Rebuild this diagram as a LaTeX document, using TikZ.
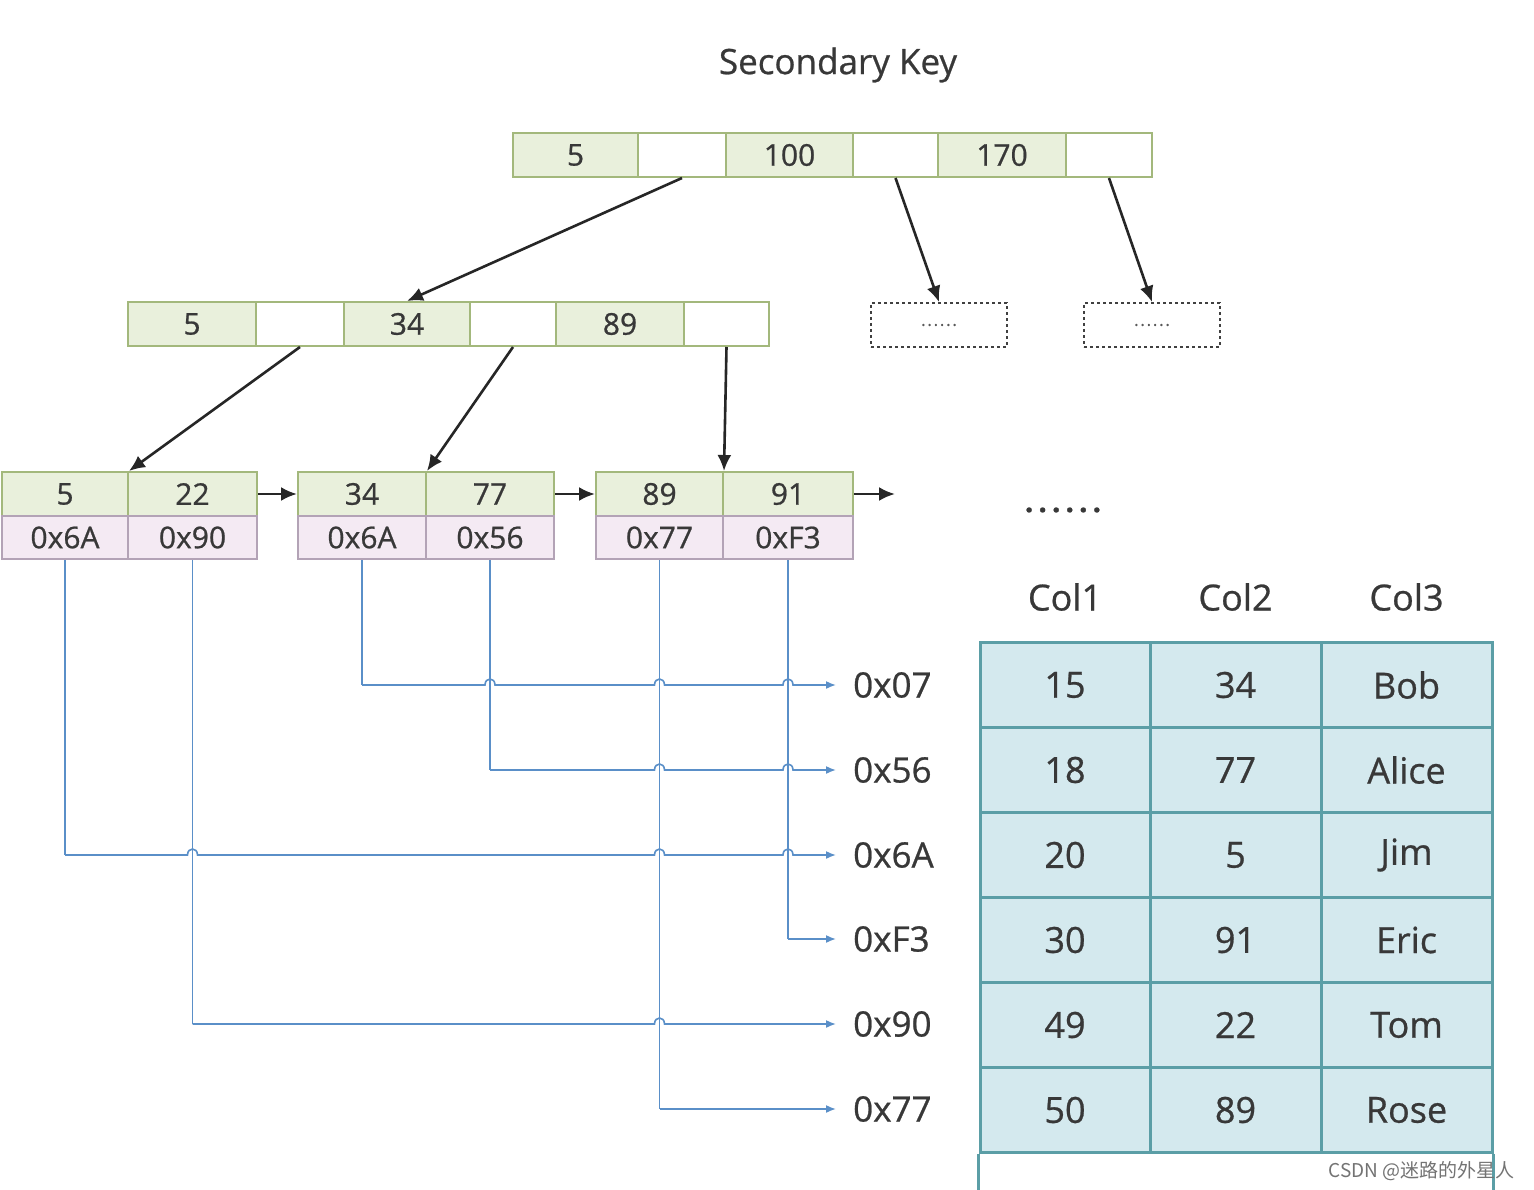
\documentclass[tikz,border=0pt]{standalone}
\usepackage{fontspec}
\setmainfont{Open Sans}[FakeBold=0.7]
\newfontfamily\cjk{Noto Sans CJK SC}
\usetikzlibrary{arrows.meta}
\definecolor{keyfill}{HTML}{E9F0DC}
\definecolor{keyline}{HTML}{A3B87C}
\definecolor{ptrfill}{HTML}{F4EAF3}
\definecolor{ptrline}{HTML}{B3A3B6}
\definecolor{txt}{HTML}{383838}
\definecolor{blueln}{HTML}{5A8FC8}
\definecolor{tabfill}{HTML}{D4E9EE}
\definecolor{tabline}{HTML}{5B9EA6}
\begin{document}
\begin{tikzpicture}[x=1pt,y=-1pt,
  keycell/.style={draw=keyline, fill=keyfill, line width=2pt, minimum height=44pt, inner sep=0pt, text=txt, font=\fontsize{30}{30}\selectfont},
  ptrcell/.style={draw=keyline, fill=white, line width=2pt, minimum height=44pt, inner sep=0pt},
  leafkey/.style={keycell, minimum height=44pt},
  leafptr/.style={draw=ptrline, fill=ptrfill, line width=2pt, minimum height=43pt, inner sep=0pt, text=txt, font=\fontsize{30}{30}\selectfont},
  dotbox/.style={draw=black!75, dash pattern=on 3pt off 3pt, line width=2pt, minimum width=136pt, minimum height=44pt, inner sep=0pt, text=black!65, font=\fontsize{16}{16}\selectfont},
  darr/.style={-{Latex[length=16pt,width=14pt]}, line width=2.6pt, black!85},
  barr/.style={-{Latex[length=10pt,width=8pt]}, line width=1.6pt, blueln},
  bln/.style={line width=1.6pt, blueln},
  lab/.style={anchor=west, inner xsep=17pt, inner ysep=0pt, text=txt, font=\fontsize{35}{35}\selectfont},
  tcell/.style={draw=tabline, fill=tabfill, line width=3pt, minimum width=170pt, minimum height=85pt, inner sep=0pt, text=txt, font=\fontsize{36}{36}\selectfont},
  head/.style={text=txt, font=\fontsize{36}{36}\selectfont}
]
\useasboundingbox[fill=white] (0,0) rectangle (1534,1190);

\node[text=txt, font=\fontsize{35}{35}\selectfont] (title) at (838,65) {Secondary Key};

% root node
\node[keycell, minimum width=125pt] (r1) at (575.5,155) {5};
\node[ptrcell, minimum width=88pt]  (r2) at (682,155) {};
\node[keycell, minimum width=127pt] (r3) at (789.5,155) {100};
\node[ptrcell, minimum width=85pt]  (r4) at (895.5,155) {};
\node[keycell, minimum width=128pt] (r5) at (1002,155) {170};
\node[ptrcell, minimum width=86pt]  (r6) at (1109,155) {};

% second level
\node[keycell, minimum width=128pt] (m1) at (192,324) {5};
\node[ptrcell, minimum width=88pt]  (m2) at (300,324) {};
\node[keycell, minimum width=126pt] (m3) at (407,324) {34};
\node[ptrcell, minimum width=86pt]  (m4) at (513,324) {};
\node[keycell, minimum width=128pt] (m5) at (620,324) {89};
\node[ptrcell, minimum width=85pt]  (m6) at (726.5,324) {};

\node[dotbox] (d1) at (939,325) {.\kern2pt.\kern2pt.\kern2pt.\kern2pt.\kern2pt.};
\node[dotbox] (d2) at (1152,325) {.\kern2pt.\kern2pt.\kern2pt.\kern2pt.\kern2pt.};

% leaves
\node[leafkey, minimum width=126pt] (a1k1) at (65,494) {5};
\node[leafkey, minimum width=129pt] (a1k2) at (192.5,494) {22};
\node[leafptr, minimum width=126pt] (a1p1) at (65,537.5) {0x6A};
\node[leafptr, minimum width=129pt] (a1p2) at (192.5,537.5) {0x90};

\node[leafkey, minimum width=128pt] (a2k1) at (362,494) {34};
\node[leafkey, minimum width=128pt] (a2k2) at (490,494) {77};
\node[leafptr, minimum width=128pt] (a2p1) at (362,537.5) {0x6A};
\node[leafptr, minimum width=128pt] (a2p2) at (490,537.5) {0x56};

\node[leafkey, minimum width=127pt] (a3k1) at (659.5,494) {89};
\node[leafkey, minimum width=130pt] (a3k2) at (788,494) {91};
\node[leafptr, minimum width=127pt] (a3p1) at (659.5,537.5) {0x77};
\node[leafptr, minimum width=130pt] (a3p2) at (788,537.5) {0xF3};

\coordinate (nextleaf) at (895,494);
\node[text=txt, font=\fontsize{30}{30}\selectfont\bfseries] (more) at (1063,510) {.\kern5pt.\kern5pt.\kern5pt.\kern5pt.\kern5pt.};

% tree arrows
\draw[darr] (r2.south) -- (m3.north);
\draw[darr] (r4.south) -- (d1.north);
\draw[darr] (r6.south) -- (d2.north);
\draw[darr] (m2.south) -- (a1k1.north east);
\draw[darr] (m4.south) -- (a2k1.north east);
\draw[darr] (m6.south) -- (a3k1.north east);
\draw[darr] (a1k2.east) -- (a2k1.west);
\draw[darr] (a2k2.east) -- (a3k1.west);
\draw[darr] (a3k2.east) -- (nextleaf);

% labels
\node[lab] (l07) at (836,685) {0x07};
\node[lab] (l56) at (836,770) {0x56};
\node[lab] (l6A) at (836,855) {0x6A};
\node[lab] (lF3) at (836,939) {0xF3};
\node[lab] (l90) at (836,1024) {0x90};
\node[lab] (l77) at (836,1109) {0x77};

% blue pointer lines (verticals)
\draw[bln] (a1p1.south) -- (a1p1.south |- l6A.west);
\draw[bln] (a1p2.south) -- (a1p2.south |- l90.west);
\draw[bln] (a2p1.south) -- (a2p1.south |- l07.west);
\draw[bln] (a2p2.south) -- (a2p2.south |- l56.west);
\draw[bln] (a3p1.south) -- (a3p1.south |- l77.west);
\draw[bln] (a3p2.south) -- (a3p2.south |- lF3.west);

% horizontals with hops
\draw[barr] (a2p1.south |- l07.west)
  -- ([xshift=-5pt]a2p2.south |- l07.west) .. controls +(0,-8) and +(0,-8) .. ([xshift=5pt]a2p2.south |- l07.west)
  -- ([xshift=-5pt]a3p1.south |- l07.west) .. controls +(0,-8) and +(0,-8) .. ([xshift=5pt]a3p1.south |- l07.west)
  -- ([xshift=-5pt]a3p2.south |- l07.west) .. controls +(0,-8) and +(0,-8) .. ([xshift=5pt]a3p2.south |- l07.west)
  -- (l07.west);
\draw[barr] (a2p2.south |- l56.west)
  -- ([xshift=-5pt]a3p1.south |- l56.west) .. controls +(0,-8) and +(0,-8) .. ([xshift=5pt]a3p1.south |- l56.west)
  -- ([xshift=-5pt]a3p2.south |- l56.west) .. controls +(0,-8) and +(0,-8) .. ([xshift=5pt]a3p2.south |- l56.west)
  -- (l56.west);
\draw[barr] (a1p1.south |- l6A.west)
  -- ([xshift=-5pt]a1p2.south |- l6A.west) .. controls +(0,-8) and +(0,-8) .. ([xshift=5pt]a1p2.south |- l6A.west)
  -- ([xshift=-5pt]a3p1.south |- l6A.west) .. controls +(0,-8) and +(0,-8) .. ([xshift=5pt]a3p1.south |- l6A.west)
  -- ([xshift=-5pt]a3p2.south |- l6A.west) .. controls +(0,-8) and +(0,-8) .. ([xshift=5pt]a3p2.south |- l6A.west)
  -- (l6A.west);
\draw[barr] (a3p2.south |- lF3.west) -- (lF3.west);
\draw[barr] (a1p2.south |- l90.west)
  -- ([xshift=-5pt]a3p1.south |- l90.west) .. controls +(0,-8) and +(0,-8) .. ([xshift=5pt]a3p1.south |- l90.west)
  -- (l90.west);
\draw[barr] (a3p1.south |- l77.west) -- (l77.west);

% table headers
\node[head] (c1) at (1065,597) {Col1};
\node[head] (c2) at (1235.5,597) {Col2};
\node[head] (c3) at (1406.5,597) {Col3};

% table rows
\foreach \r/\y/\a/\b/\c in {1/685/15/34/Bob, 2/770/18/77/Alice, 3/855/20/5/Jim, 4/940/30/91/Eric, 5/1025/49/22/Tom, 6/1110/50/89/Rose}{
  \node[tcell] (t\r a) at (1065,\y) {\a};
  \node[tcell, minimum width=171pt] (t\r b) at (1235.5,\y) {\b};
  \node[tcell, minimum width=171pt] (t\r c) at (1406.5,\y) {\c};
}
\draw[draw=tabline, line width=3pt] (t6a.south west) -- ++(0,45);
\draw[draw=tabline, line width=3pt] (t6c.south east) -- ++(0,45);

% watermark
\node[anchor=east, text=black!55, font=\cjk\fontsize{19}{19}\selectfont] (wm) at (1518,1171) {CSDN @迷路的外星人};
\end{tikzpicture}
\end{document}
